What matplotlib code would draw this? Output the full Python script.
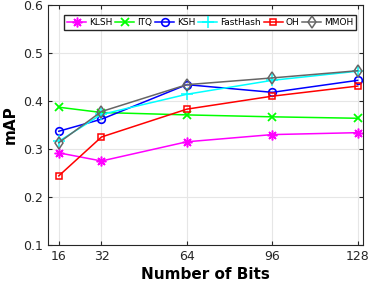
import numpy as np
import matplotlib
matplotlib.use("Agg")
import matplotlib.pyplot as plt

bits = [16, 32, 64, 96, 128]
klsh = [0.292, 0.275, 0.315, 0.330, 0.334]
itq = [0.387, 0.376, 0.371, 0.367, 0.364]
ksh = [0.337, 0.362, 0.434, 0.418, 0.443]
fasthash = [0.316, 0.372, 0.414, 0.443, 0.462]
oh = [0.244, 0.325, 0.383, 0.410, 0.431]
mmoh = [0.313, 0.378, 0.434, 0.448, 0.463]

fig = plt.figure(figsize=(3.7, 2.91), dpi=100)
ax = fig.add_axes([0.13, 0.158, 0.851, 0.825])

lw = 1.1
ax.plot(bits, klsh, color='magenta', marker=(8, 2, 0), ms=7, mew=1.1, lw=lw, label='KLSH')
ax.plot(bits, itq, color='#00ff00', marker='x', ms=6, mew=1.3, lw=lw, label='ITQ')
ax.plot(bits, ksh, color='blue', marker='o', ms=5.5, mfc='none', mew=1.2, lw=lw, label='KSH')
ax.plot(bits, fasthash, color='cyan', marker='+', ms=8, mew=1.1, lw=lw, label='FastHash')
ax.plot(bits, oh, color='red', marker='s', ms=4.5, mfc='none', mew=1.1, lw=lw, label='OH')
ax.plot(bits, mmoh, color='#666666', marker='d', ms=6, mfc='none', mew=1.1, lw=lw, label='MMOH')

ax.set_xlim(12, 130)
ax.set_ylim(0.1, 0.6)
ax.set_xticks(bits)
ax.set_yticks([0.1, 0.2, 0.3, 0.4, 0.5, 0.6])
ax.set_yticklabels(['0.1', '0.2', '0.3', '0.4', '0.5', '0.6'])
ax.tick_params(direction='in', top=True, right=True, labelsize=9, length=3, colors='#262626')
ax.grid(True, color='#e6e6e6', lw=0.8)
ax.set_axisbelow(True)
for s in ax.spines.values():
    s.set_color('#262626')
    s.set_linewidth(0.8)

ax.set_xlabel('Number of Bits', fontsize=11, fontweight='bold', labelpad=3)
ax.set_ylabel('mAP', fontsize=11, fontweight='bold', labelpad=4)

ax.legend(ncol=6, loc='upper right', bbox_to_anchor=(0.985, 0.965), fontsize=6.5,
          handlelength=2.1, handletextpad=0.3, columnspacing=0.35, borderpad=0.35,
          fancybox=False, edgecolor='#262626', framealpha=1, borderaxespad=0.2)

fig.savefig('out.png', dpi=100)
